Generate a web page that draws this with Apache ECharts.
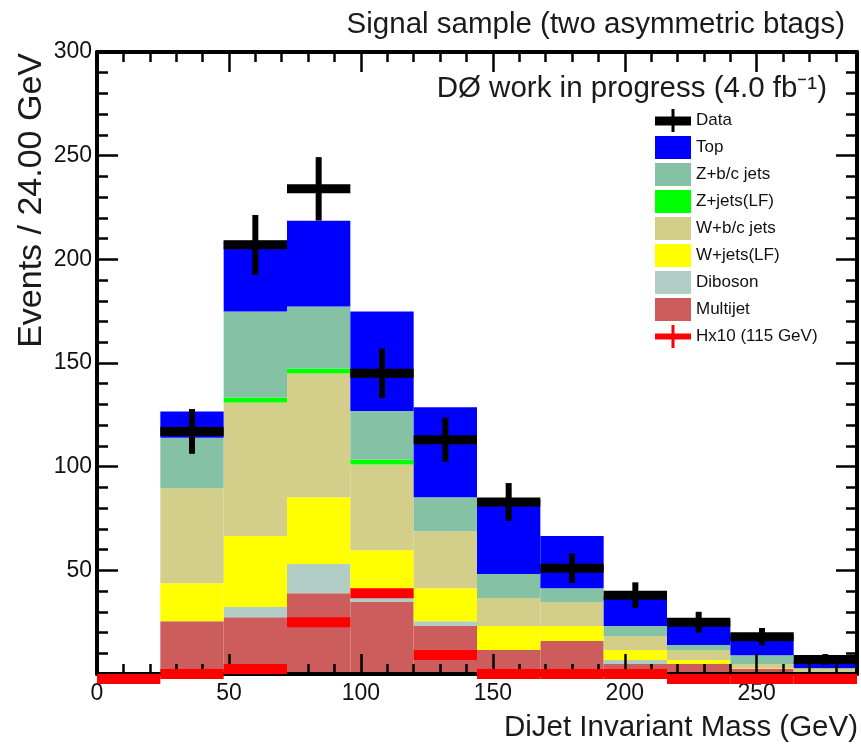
<!DOCTYPE html>
<html>
<head>
<meta charset="utf-8">
<script src="https://cdn.jsdelivr.net/npm/echarts@6/dist/echarts.min.js"></script>
<style>
  html, body { margin: 0; padding: 0; background: #ffffff; }
  #chart { width: 861px; height: 745px; }
</style>
</head>
<body>
<div id="chart"></div>
<script>
// Dijet invariant mass, 24 GeV bins from 0 to 288 GeV
const binEdges = [0, 24, 48, 72, 96, 120, 144, 168, 192, 216, 240, 264, 288];

// Background contributions per bin (events), listed bottom of the stack first
const multijet = [0, 25.5, 27.4, 39.0, 34.7, 23.1, 11.6, 15.9, 4.8, 4.8, 2.4, 0.5];
const diboson  = [0, 0, 4.9, 14.0, 2.3, 2.4, 0, 0, 1.9, 0, 0, 0];
const wjetsLF  = [0, 18.3, 34.2, 32.2, 22.7, 15.9, 11.5, 7.2, 4.9, 1.9, 0.2, 0.3];
const wbcJets  = [0, 45.8, 64.4, 59.7, 41.4, 27.5, 13.5, 11.6, 6.7, 4.9, 2.2, 1.6];
const zjetsLF  = [0, 0, 2.5, 2.4, 2.4, 0, 0, 0, 0, 0, 0, 0];
const zbcJets  = [0, 24.4, 41.4, 29.9, 23.3, 16.3, 11.6, 6.7, 4.8, 2.4, 4.3, 0.5];
const topQuark = [0, 12.6, 34.2, 41.4, 48.0, 43.4, 35.8, 25.1, 14.4, 12.0, 9.9, 3.1];

// Observed events and their error bars
const dataCounts = [0, 117, 207, 234, 145, 113, 83, 51, 38, 25, 18, 7];
const dataErrors = [0, 10.8, 14.4, 15.3, 12.0, 10.6, 9.1, 7.1, 6.2, 5.0, 4.2, 2.6];

// Higgs signal (115 GeV) scaled by 10
const higgsX10 = [0, 2.4, 4.8, 27.4, 41.4, 11.6, 2.4, 2.4, 2.4, 0, 0, 0];

// Axis ticks
const xMajorStep = 50, xMinorStep = 10;
const yMajorStep = 50;

const FONT = "'Liberation Sans', Arial, Helvetica, sans-serif";

const stackParts = [
  { name: 'Multijet',   values: multijet, color: '#cd5c5c' },
  { name: 'Diboson',    values: diboson,  color: '#b2cdc6' },
  { name: 'W+jets(LF)', values: wjetsLF,  color: '#ffff00' },
  { name: 'W+b/c jets', values: wbcJets,  color: '#d3ce8a' },
  { name: 'Z+jets(LF)', values: zjetsLF,  color: '#00ff00' },
  { name: 'Z+b/c jets', values: zbcJets,  color: '#85c1a5' },
  { name: 'Top',        values: topQuark, color: '#0000ff' }
];

function stackRect(params, api) {
  const y0 = api.value(2), y1 = api.value(3);
  if (!(y1 > y0)) return null;
  const a = api.coord([api.value(0), y1]);
  const b = api.coord([api.value(1), y0]);
  return {
    type: 'rect',
    shape: { x: a[0], y: a[1], width: b[0] - a[0], height: b[1] - a[1] },
    style: { fill: api.visual('color') }
  };
}

const base = new Array(binEdges.length - 1).fill(0);
const stackSeries = stackParts.map(part => {
  const rows = part.values.map((v, i) => {
    const row = [binEdges[i], binEdges[i + 1], base[i], base[i] + v];
    base[i] += v;
    return row;
  });
  return {
    name: part.name,
    type: 'custom',
    z: 2,
    itemStyle: { color: part.color },
    renderItem: stackRect,
    encode: { x: [0, 1], y: [2, 3] },
    data: rows,
    silent: true
  };
});

// Data points: horizontal bar across the bin plus vertical error bar
const dataRows = dataCounts.map((v, i) => [binEdges[i], binEdges[i + 1], v, dataErrors[i]]);
function dataMark(params, api) {
  const x0 = api.value(0), x1 = api.value(1), v = api.value(2), e = api.value(3);
  if (!(v > 0)) return null;
  const l = api.coord([x0, v]);
  const r = api.coord([x1, v]);
  const hi = api.coord([(x0 + x1) / 2, v + e]);
  const lo = api.coord([(x0 + x1) / 2, v - e]);
  return {
    type: 'group',
    children: [
      { type: 'rect', shape: { x: l[0], y: l[1] - 4.5, width: r[0] - l[0], height: 9 }, style: { fill: '#000000' } },
      { type: 'rect', shape: { x: hi[0] - 3, y: hi[1], width: 6, height: lo[1] - hi[1] }, style: { fill: '#000000' } }
    ]
  };
}

// Higgs histogram: thick horizontal strokes hanging below each bin value
const higgsRows = higgsX10.map((v, i) => [binEdges[i], binEdges[i + 1], v]);
function higgsMark(params, api) {
  const l = api.coord([api.value(0), api.value(2)]);
  const r = api.coord([api.value(1), api.value(2)]);
  return {
    type: 'rect',
    shape: { x: l[0], y: l[1], width: r[0] - l[0], height: 10 },
    style: { fill: '#ff0000' }
  };
}

const dataIcon = 'path://M0,7.5H36V16.5H0Z M16.5,0H19.5V23H16.5Z';
const higgsIcon = 'path://M0,8.5H36V14.5H0Z M16.5,0H19.5V23H16.5Z';

const tickLine = { color: '#000000', width: 2.5 };
const frameLine = { color: '#000000', width: 4 };

function xAxisDef(position, step, tickLen, withLine, withLabels) {
  return {
    type: 'value', position: position, min: 0, max: 288, interval: step, z: 3,
    axisLine: { show: withLine, onZero: false, lineStyle: frameLine },
    axisTick: { show: true, inside: true, length: tickLen, lineStyle: tickLine },
    axisLabel: withLabels ? {
      show: true, margin: 8, fontFamily: FONT, fontSize: 23, color: '#111111',
      showMaxLabel: false
    } : { show: false },
    splitLine: { show: false }
  };
}

function yAxisDef(position, withLabels) {
  return {
    type: 'value', position: position, min: 0, max: 300, interval: yMajorStep, z: 3,
    axisLine: { show: true, onZero: false, lineStyle: frameLine },
    axisTick: { show: true, inside: true, length: 21, lineStyle: tickLine },
    minorTick: { show: true, splitNumber: 5, length: 11, lineStyle: tickLine },
    axisLabel: withLabels ? {
      show: true, margin: 5, fontFamily: FONT, fontSize: 23, color: '#111111',
      showMinLabel: false
    } : { show: false },
    splitLine: { show: false }
  };
}

const titleStyle = { fontFamily: FONT, fontSize: 29.5, fontWeight: 'normal', color: '#1a1a1a' };

const option = {
  animation: false,
  backgroundColor: '#ffffff',
  grid: { left: 97, right: 4, top: 52, bottom: 71, outerBoundsMode: 'none' },
  title: [
    { text: 'Signal sample (two asymmetric btags)', right: 16, top: 10, padding: 0, textStyle: titleStyle },
    { text: 'DØ work in progress (4.0 fb⁻¹)', right: 34, top: 74, padding: 0, textStyle: titleStyle }
  ],
  legend: {
    orient: 'vertical', left: 655, top: 109, padding: 0,
    itemWidth: 36, itemHeight: 23, itemGap: 4,
    selectedMode: false,
    textStyle: { fontFamily: FONT, fontSize: 17, color: '#111111' },
    data: [
      { name: 'Data', icon: dataIcon },
      { name: 'Top', icon: 'rect' },
      { name: 'Z+b/c jets', icon: 'rect' },
      { name: 'Z+jets(LF)', icon: 'rect' },
      { name: 'W+b/c jets', icon: 'rect' },
      { name: 'W+jets(LF)', icon: 'rect' },
      { name: 'Diboson', icon: 'rect' },
      { name: 'Multijet', icon: 'rect' },
      { name: 'Hx10 (115 GeV)', icon: higgsIcon }
    ]
  },
  xAxis: [
    xAxisDef('bottom', xMajorStep, 20, true, true),
    xAxisDef('bottom', xMinorStep, 10, false, false),
    xAxisDef('top', xMajorStep, 20, true, false),
    xAxisDef('top', xMinorStep, 10, false, false)
  ],
  yAxis: [
    yAxisDef('left', true),
    yAxisDef('right', false)
  ],
  graphic: [
    {
      type: 'text', z: 10,
      style: {
        text: 'DiJet Invariant Mass (GeV)', x: 858, y: 728,
        textAlign: 'right', textVerticalAlign: 'middle', align: 'right', verticalAlign: 'middle',
        font: '29.5px ' + FONT, fill: '#1a1a1a'
      }
    },
    {
      type: 'text', z: 10, x: 32, y: 53, rotation: Math.PI / 2,
      style: {
        text: 'Events / 24.00 GeV', x: 0, y: 0,
        textAlign: 'right', textVerticalAlign: 'middle', align: 'right', verticalAlign: 'middle',
        font: '34px ' + FONT, fill: '#1a1a1a'
      }
    }
  ],
  series: stackSeries.concat([
    {
      name: 'Hx10 (115 GeV)', type: 'custom', z: 4,
      itemStyle: { color: '#ff0000' },
      renderItem: higgsMark, encode: { x: [0, 1], y: [2] }, data: higgsRows, silent: true
    },
    {
      name: 'Data', type: 'custom', z: 5,
      itemStyle: { color: '#000000' },
      renderItem: dataMark, encode: { x: [0, 1], y: [2] }, data: dataRows, silent: true
    }
  ])
};

const chart = echarts.init(document.getElementById('chart'));
chart.setOption(option);
</script>
</body>
</html>
